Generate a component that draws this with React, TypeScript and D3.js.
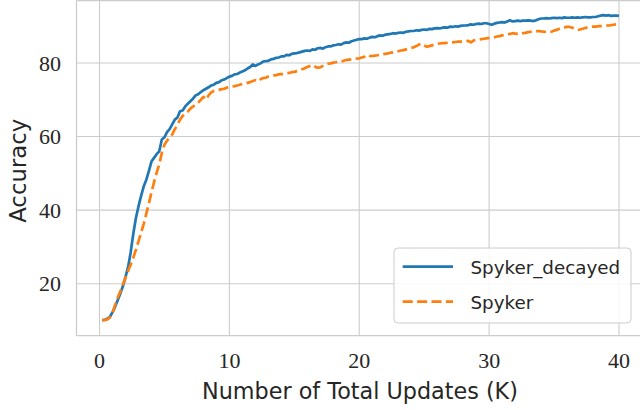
import React from "react";
import * as d3 from "d3";

const updatesK: number[] = d3.range(1, 201).map((i) => +(i * 0.2).toFixed(1));

const spykerDecayed: number[] = [
  10.1, 10.2, 10.5, 11.0, 12.2, 13.7, 15.5, 17.3, 19.3, 21.8,
  24.5, 28.5, 33.5, 37.8, 41.0, 43.8, 46.4, 48.2, 50.6, 53.2,
  54.2, 55.2, 56.0, 59.2, 59.8, 61.2, 62.0, 63.3, 64.6, 65.2,
  66.9, 67.1, 68.2, 68.9, 69.6, 70.3, 71.2, 71.5, 72.1, 72.6,
  73.0, 73.4, 73.9, 74.1, 74.6, 74.8, 75.3, 75.5, 75.9, 76.3,
  76.5, 76.9, 77.0, 77.4, 77.7, 78.0, 78.5, 78.9, 79.6, 79.2,
  79.6, 79.9, 80.4, 80.5, 80.6, 81.0, 81.1, 81.4, 81.5, 81.8,
  81.8, 82.2, 82.1, 82.5, 82.6, 82.7, 82.9, 83.1, 83.3, 83.4,
  83.3, 83.7, 83.6, 84.0, 84.1, 83.9, 84.3, 84.5, 84.5, 84.8,
  84.9, 85.1, 85.0, 85.4, 85.6, 85.5, 85.9, 86.1, 86.3, 86.5,
  86.5, 86.7, 86.6, 86.9, 87.1, 87.0, 87.3, 87.5, 87.4, 87.7,
  87.8, 87.9, 88.1, 88.0, 88.2, 88.3, 88.2, 88.5, 88.6, 88.7,
  88.7, 88.9, 88.8, 89.0, 89.1, 89.0, 89.3, 89.2, 89.4, 89.5,
  89.4, 89.6, 89.7, 89.6, 89.9, 89.8, 90.0, 89.9, 90.1, 90.2,
  90.2, 90.3, 90.5, 90.4, 90.6, 90.7, 90.6, 90.8, 90.8, 90.6,
  90.4, 90.7, 90.9, 91.0, 91.1, 91.0, 91.3, 91.6, 91.3, 91.4,
  91.5, 91.4, 91.5, 91.5, 91.6, 91.5, 91.4, 91.6, 91.9, 92.1,
  92.1, 92.2, 92.1, 92.2, 92.3, 92.2, 92.3, 92.2, 92.4, 92.3,
  92.3, 92.4, 92.3, 92.4, 92.3, 92.4, 92.5, 92.4, 92.4, 92.5,
  92.5, 92.7, 92.9, 93.0, 92.9, 93.0, 92.8, 92.9, 92.9, 92.8,
];

const spyker: number[] = [
  10.1, 10.1, 10.3, 10.8, 12.0, 14.2, 16.2, 17.9, 19.8, 21.6,
  23.4, 25.2, 27.0, 29.2, 31.5, 33.8, 36.2, 39.0, 41.8, 44.8,
  47.6, 50.2, 52.4, 55.6, 57.8, 58.9, 59.7, 60.6, 62.0, 63.2,
  64.6, 65.6, 66.3, 66.8, 67.6, 68.2, 68.6, 69.2, 70.0, 70.8,
  70.0, 71.2, 72.0, 72.4, 72.5, 72.7, 72.9, 73.0, 73.3, 73.5,
  73.6, 73.7, 73.9, 74.1, 74.3, 74.4, 74.6, 74.8, 75.1, 75.3,
  75.0, 75.6, 75.9, 76.0, 76.3, 76.4, 76.6, 76.7, 76.9, 77.0,
  77.0, 77.2, 77.3, 77.5, 77.6, 77.8, 78.0, 78.3, 78.6, 78.9,
  79.2, 79.5, 79.0, 78.7, 78.8, 79.2, 79.6, 79.8, 79.9, 80.1,
  80.2, 80.4, 80.5, 80.6, 80.8, 80.9, 81.0, 81.1, 81.2, 81.3,
  81.5, 81.7, 82.2, 81.9, 81.9, 82.0, 82.1, 82.3, 82.4, 82.5,
  82.6, 82.8, 82.9, 83.1, 83.2, 83.4, 83.5, 83.7, 83.9, 84.1,
  84.3, 84.6, 85.0, 85.3, 84.8, 84.4, 84.6, 84.8, 85.0, 85.2,
  85.3, 85.4, 85.4, 85.5, 85.6, 85.6, 85.7, 85.8, 85.8, 85.9,
  85.9, 86.0, 85.6, 86.1, 86.3, 86.4, 86.5, 86.6, 86.7, 86.8,
  86.9, 87.0, 87.2, 87.3, 87.5, 87.6, 87.8, 87.9, 88.1, 88.0,
  87.9, 87.8, 88.1, 88.2, 88.4, 88.5, 88.6, 88.6, 88.7, 88.6,
  88.5, 88.5, 88.4, 88.5, 88.8, 89.0, 89.3, 89.6, 89.7, 89.8,
  89.8, 89.6, 89.3, 89.0, 89.1, 89.3, 89.5, 89.7, 89.8, 89.9,
  89.9, 90.0, 90.0, 90.1, 90.2, 90.2, 90.3, 90.4, 90.5, 90.6,
];

const xTicks: number[] = [0, 10, 20, 30, 40];
const yTicks: number[] = [20, 40, 60, 80];
const seriesNames: string[] = ["Spyker_decayed", "Spyker"];
const xLabel = "Number of Total Updates (K)";
const yLabel = "Accuracy";

const W = 640;
const H = 410;
const plotLeft = 76.5;
const plotRight = 660;
const plotTop = 0.5;
const plotBottom = 335.7;

const BLUE = "#1f77b4";
const ORANGE = "#ff7f0e";
const GRID = "#cccccc";
const TEXT = "#262626";

export default function App() {
  const x = d3.scaleLinear().domain([0, 40]).range([99.5, 619]);
  const y = d3.scaleLinear().domain([20, 80]).range([283.7, 63]);

  const line = d3
    .line<number>()
    .x((_, i) => x(updatesK[i]))
    .y((d) => y(d));

  const serifFont = "'Liberation Serif', 'DejaVu Serif', serif";
  const sansFont = "'DejaVu Sans', sans-serif";

  const legendX = 394;
  const legendY = 248;
  const legendW = 237;
  const legendH = 75;
  const rows = [266.7, 301.7];

  return (
    <svg
      width={W}
      height={H}
      style={{ position: "absolute", left: 0, top: 0, background: "#fff" }}
    >
      <rect x={0} y={0} width={W} height={H} fill="#fff" />
      {/* grid */}
      {xTicks.map((t) => (
        <line
          key={"gx" + t}
          x1={x(t)}
          x2={x(t)}
          y1={plotTop}
          y2={plotBottom}
          stroke={GRID}
          strokeWidth={1.1}
        />
      ))}
      {yTicks.map((t) => (
        <line
          key={"gy" + t}
          x1={plotLeft}
          x2={plotRight}
          y1={y(t)}
          y2={y(t)}
          stroke={GRID}
          strokeWidth={1.1}
        />
      ))}
      {/* spines */}
      <line x1={plotLeft} x2={plotLeft} y1={plotTop} y2={plotBottom} stroke={GRID} strokeWidth={1.3} />
      <line x1={plotLeft} x2={plotRight} y1={plotBottom} y2={plotBottom} stroke={GRID} strokeWidth={1.3} />
      <line x1={plotLeft} x2={plotRight} y1={plotTop} y2={plotTop} stroke={GRID} strokeWidth={1.3} />

      {/* series */}
      <path d={line(spykerDecayed) || ""} fill="none" stroke={BLUE} strokeWidth={2.7} strokeLinejoin="round" />
      <path
        d={line(spyker) || ""}
        fill="none"
        stroke={ORANGE}
        strokeWidth={2.7}
        strokeDasharray="10,4.4"
        strokeLinejoin="round"
      />

      {/* tick labels */}
      {xTicks.map((t) => (
        <text
          key={"tx" + t}
          x={x(t)}
          y={368.3}
          textAnchor="middle"
          fontFamily={serifFont}
          fontSize={22}
          fill={TEXT}
        >
          {t}
        </text>
      ))}
      {yTicks.map((t) => (
        <text
          key={"ty" + t}
          x={61}
          y={y(t) + 7.5}
          textAnchor="end"
          fontFamily={serifFont}
          fontSize={22}
          fill={TEXT}
        >
          {t}
        </text>
      ))}

      {/* axis labels */}
      <text
        x={360}
        y={398.5}
        textAnchor="middle"
        fontFamily={sansFont}
        fontSize={22.3}
        fill={TEXT}
      >
        {xLabel}
      </text>
      <text
        transform={`translate(25.5, ${170.8}) rotate(-90)`}
        textAnchor="middle"
        fontFamily={sansFont}
        fontSize={22.8}
        fill={TEXT}
      >
        {yLabel}
      </text>

      {/* legend */}
      <rect
        x={legendX}
        y={legendY}
        width={legendW}
        height={legendH}
        rx={4}
        ry={4}
        fill="#ffffff"
        fillOpacity={0.85}
        stroke={GRID}
        strokeWidth={1}
      />
      {seriesNames.map((name, i) => (
        <g key={name}>
          <line
            x1={402.7}
            x2={453}
            y1={rows[i]}
            y2={rows[i]}
            stroke={i === 0 ? BLUE : ORANGE}
            strokeWidth={2.7}
            strokeDasharray={i === 0 ? undefined : "10,4.4"}
          />
          <text
            x={470.5}
            y={rows[i] + 7}
            fontFamily={sansFont}
            fontSize={18.3}
            fill={TEXT}
          >
            {name}
          </text>
        </g>
      ))}
    </svg>
  );
}
